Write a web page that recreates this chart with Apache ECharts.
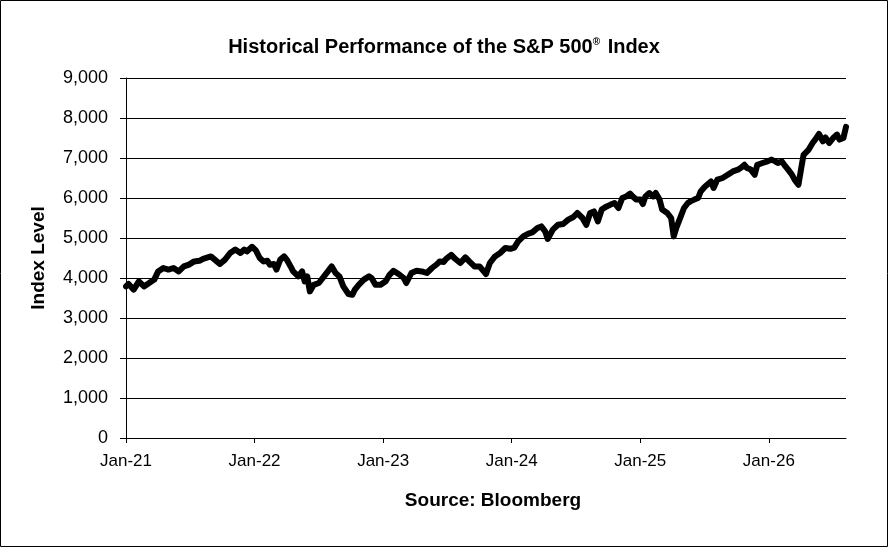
<!DOCTYPE html>
<html>
<head>
<meta charset="utf-8">
<script src="https://cdn.jsdelivr.net/npm/echarts@6/dist/echarts.min.js"></script>
<style>
  html, body { margin: 0; padding: 0; background: #fff; }
  #chart { width: 888px; height: 547px; }
</style>
</head>
<body>
<div id="chart"></div>
<script>
'use strict';

// time in decimal years
var years = [
  2021.00, 2021.02, 2021.06, 2021.10, 2021.14, 2021.18, 2021.22, 2021.25, 2021.29, 2021.33,
  2021.37, 2021.41, 2021.45, 2021.49, 2021.53, 2021.57, 2021.60, 2021.66, 2021.69, 2021.73,
  2021.77, 2021.81, 2021.85, 2021.89, 2021.92, 2021.94, 2021.98, 2022.01, 2022.04, 2022.07,
  2022.10, 2022.12, 2022.15, 2022.17, 2022.20, 2022.23, 2022.25, 2022.28, 2022.30, 2022.34,
  2022.37, 2022.39, 2022.41, 2022.43, 2022.46, 2022.50, 2022.54, 2022.57, 2022.60, 2022.63,
  2022.66, 2022.69, 2022.73, 2022.76, 2022.78, 2022.81, 2022.85, 2022.89, 2022.91, 2022.94,
  2022.98, 2023.02, 2023.05, 2023.08, 2023.12, 2023.16, 2023.18, 2023.22, 2023.26, 2023.30,
  2023.34, 2023.38, 2023.42, 2023.44, 2023.47, 2023.49, 2023.53, 2023.56, 2023.60, 2023.64,
  2023.67, 2023.71, 2023.75, 2023.80, 2023.83, 2023.87, 2023.91, 2023.95, 2023.99, 2024.02,
  2024.05, 2024.09, 2024.13, 2024.16, 2024.20, 2024.23, 2024.26, 2024.28, 2024.32, 2024.36,
  2024.40, 2024.44, 2024.48, 2024.51, 2024.55, 2024.58, 2024.61, 2024.64, 2024.67, 2024.70,
  2024.73, 2024.77, 2024.80, 2024.83, 2024.86, 2024.89, 2024.92, 2024.94, 2024.97, 2025.00,
  2025.02, 2025.04, 2025.07, 2025.10, 2025.12, 2025.15, 2025.17, 2025.21, 2025.24, 2025.26,
  2025.28, 2025.30, 2025.34, 2025.37, 2025.39, 2025.42, 2025.45, 2025.47, 2025.50, 2025.52,
  2025.55, 2025.57, 2025.60, 2025.64, 2025.68, 2025.72, 2025.76, 2025.78, 2025.81, 2025.83,
  2025.86, 2025.89, 2025.91, 2025.95, 2025.99, 2026.02, 2026.05, 2026.07, 2026.10, 2026.12,
  2026.15, 2026.18, 2026.20, 2026.23, 2026.25, 2026.27, 2026.31, 2026.34, 2026.36, 2026.39,
  2026.42, 2026.44, 2026.47, 2026.50, 2026.53, 2026.55, 2026.58, 2026.60
];

var levels = [
  3790, 3850, 3710, 3915, 3790, 3875, 3960, 4165, 4250, 4210,
  4250, 4165, 4290, 4335, 4415, 4430, 4480, 4540, 4460, 4350,
  4460, 4625, 4710, 4625, 4710, 4665, 4780, 4690, 4500, 4415,
  4430, 4330, 4350, 4210, 4460, 4540, 4460, 4290, 4165, 4040,
  4165, 3915, 4040, 3665, 3830, 3875, 4040, 4165, 4290, 4125,
  4040, 3790, 3600, 3580, 3710, 3830, 3960, 4040, 4000, 3830,
  3830, 3920, 4080, 4180, 4100, 4000, 3875, 4125, 4180, 4165,
  4125, 4250, 4350, 4415, 4400, 4480, 4580, 4480, 4375, 4515,
  4415, 4290, 4290, 4100, 4375, 4540, 4625, 4750, 4730, 4760,
  4915, 5040, 5110, 5140, 5250, 5290, 5165, 4975, 5210, 5330,
  5350, 5460, 5525, 5625, 5500, 5330, 5625, 5665, 5415, 5710,
  5775, 5835, 5875, 5750, 6000, 6040, 6110, 6040, 5960, 5960,
  5850, 6040, 6125, 6040, 6125, 5960, 5710, 5625, 5500, 5040,
  5250, 5415, 5750, 5875, 5915, 5960, 6000, 6165, 6275, 6330,
  6415, 6250, 6460, 6500, 6580, 6665, 6710, 6750, 6830, 6750,
  6710, 6580, 6830, 6875, 6915, 6960, 6915, 6875, 6915, 6830,
  6710, 6580, 6460, 6330, 6710, 7080, 7210, 7375, 7460, 7600,
  7415, 7515, 7375, 7500, 7585, 7460, 7500, 7780
];

var yearTicks = [2021, 2022, 2023, 2024, 2025, 2026];

var series = years.map(function (t, i) { return [t, levels[i]]; });

var myChart = echarts.init(document.getElementById('chart'));

var option = {
  backgroundColor: '#fff',
  animation: false,
  title: {
    text: 'Historical Performance of the S&P 500{sup|®} Index',
    left: 'center',
    top: 32,
    textStyle: {
      fontFamily: 'Liberation Sans Narrow, Arial, sans-serif',
      fontSize: 20,
      fontWeight: 'bold',
      color: '#000',
      rich: {
        sup: {
          fontFamily: 'Liberation Sans Narrow, Arial, sans-serif',
          fontSize: 10,
          fontWeight: 'bold',
          verticalAlign: 'top',
          padding: [0, 2, 10, 0]
        }
      }
    }
  },
  grid: {
    left: 126,
    top: 78,
    right: 42,
    bottom: 109,
    containLabel: false
  },
  xAxis: {
    type: 'value',
    min: 2021,
    max: 2026.6,
    interval: 1,
    name: 'Source: Bloomberg',
    nameLocation: 'middle',
    nameGap: 53,
    nameTextStyle: {
      fontFamily: 'Arial, Liberation Sans, sans-serif',
      fontSize: 19,
      fontWeight: 'bold',
      color: '#000',
      padding: [0, 0, 0, 14]
    },
    axisLine: { show: true, lineStyle: { color: '#000', width: 1 } },
    axisTick: { show: true, length: 5, lineStyle: { color: '#000' } },
    splitLine: { show: false },
    axisLabel: {
      fontFamily: 'Arial, Liberation Sans, sans-serif',
      fontSize: 17,
      color: '#000',
      margin: 15,
      showMaxLabel: false,
      formatter: function (v) {
        if (yearTicks.indexOf(Math.round(v)) < 0) return '';
        return 'Jan-' + String(Math.round(v)).slice(2);
      }
    }
  },
  yAxis: {
    type: 'value',
    min: 0,
    max: 9000,
    interval: 1000,
    name: 'Index Level',
    nameLocation: 'middle',
    nameGap: 78,
    nameTextStyle: {
      fontFamily: 'Arial, Liberation Sans, sans-serif',
      fontSize: 19,
      fontWeight: 'bold',
      color: '#000'
    },
    axisLine: { show: true, lineStyle: { color: '#000', width: 1 } },
    axisTick: { show: true, length: 6, lineStyle: { color: '#000' } },
    splitLine: { show: true, lineStyle: { color: '#000', width: 1 } },
    axisLabel: {
      fontFamily: 'Arial, Liberation Sans, sans-serif',
      fontSize: 18,
      color: '#000',
      margin: 18,
      formatter: function (v) { return v.toLocaleString('en-US'); }
    }
  },
  graphic: [{
    type: 'rect',
    shape: { x: 0.5, y: 0.5, width: 887, height: 546 },
    style: { fill: 'none', stroke: '#000', lineWidth: 1 },
    silent: true
  }],
  series: [{
    type: 'line',
    data: series,
    showSymbol: false,
    smooth: false,
    lineStyle: { color: '#000', width: 6, join: 'round', cap: 'round' },
    clip: true
  }]
};

myChart.setOption(option);

window.addEventListener('resize', function () {
  myChart.resize();
});
</script>
</body>
</html>
